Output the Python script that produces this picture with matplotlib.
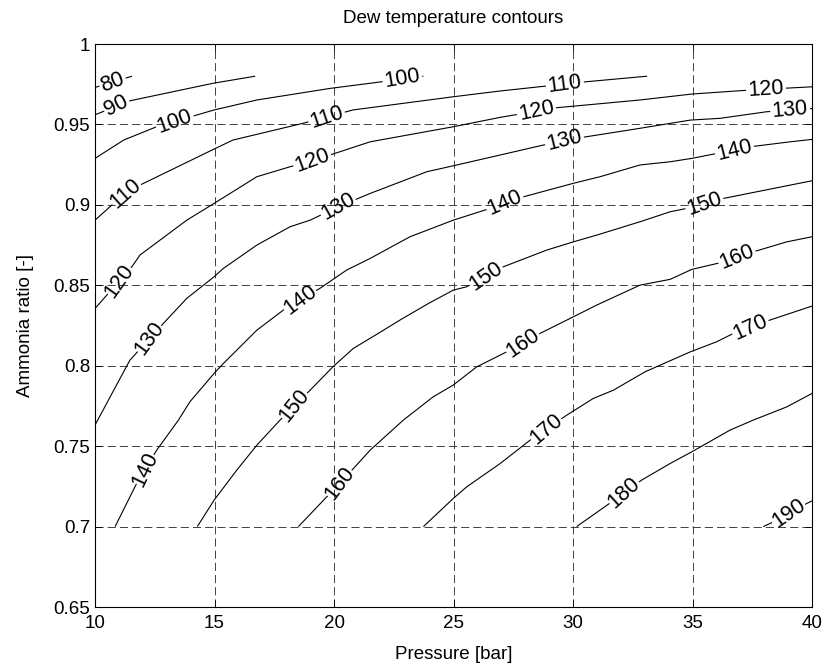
import numpy as np
import matplotlib
matplotlib.use("Agg")
import matplotlib.pyplot as plt
from matplotlib.contour import ContourSet
from matplotlib.ticker import FuncFormatter

plt.rcParams['font.family'] = ['Liberation Sans', 'DejaVu Sans']

levels = [80, 90, 100, 110, 120, 130, 140, 150, 160, 170, 180, 190]

# contour traces: pressure [bar] / ammonia ratio [-]
p80 = [10.0, 11.55]
r80 = [0.973, 0.980]

p90 = [10.0, 11.46, 14.94, 16.7]
r90 = [0.956, 0.9647, 0.9756, 0.980]

p100 = [10.0, 11.2, 12.58, 14.98, 16.77, 19.83, 21.51, 23.74]
r100 = [0.9289, 0.9403, 0.9486, 0.959, 0.9652, 0.9724, 0.9756, 0.980]

p110 = [10.0, 11.26, 11.88, 14.98, 15.77, 18.70, 20.79, 24.98, 26.95, 30.59, 33.1]
r110 = [0.8905, 0.9073, 0.9123, 0.9347, 0.9403, 0.9507, 0.959, 0.9672, 0.9708, 0.9766, 0.980]

p120 = [10.0, 11.54, 11.88, 13.0, 13.84, 14.98, 16.77, 18.16, 19.83, 21.51, 25.0,
        26.95, 29.32, 32.8, 34.97, 37.41, 40.0]
r120 = [0.8356, 0.8615, 0.8688, 0.8812, 0.8905, 0.9009, 0.9175, 0.9237, 0.931, 0.9392,
        0.9486, 0.9544, 0.9604, 0.9652, 0.9689, 0.9714, 0.9734]

p130 = [10.0, 11.46, 12.86, 13.84, 14.98, 15.37, 16.77, 18.16, 19.0, 20.17, 21.51,
        23.88, 24.99, 26.95, 28.76, 30.15, 32.8, 34.9, 36.15, 38.1, 40.0]
r130 = [0.7631, 0.8035, 0.8263, 0.8419, 0.8553, 0.8605, 0.875, 0.8864, 0.8905, 0.8988,
        0.9071, 0.9206, 0.9243, 0.931, 0.9372, 0.9414, 0.9476, 0.9527, 0.9538, 0.9579, 0.9599]

p140 = [10.84, 11.74, 12.58, 13.49, 13.97, 14.98, 15.37, 16.77, 17.88, 19.41, 20.53,
        21.51, 23.18, 24.99, 26.53, 27.92, 30.01, 31.13, 32.8, 34.06, 34.97, 37.41,
        39.08, 40.0]
r140 = [0.700, 0.7268, 0.7475, 0.7662, 0.7776, 0.7952, 0.8014, 0.8221, 0.8346, 0.8481,
        0.8595, 0.8667, 0.8802, 0.8905, 0.8978, 0.905, 0.9134, 0.9175, 0.9248, 0.9268,
        0.9289, 0.9361, 0.9392, 0.9407]

p150 = [14.28, 14.98, 15.93, 16.77, 17.74, 19.0, 19.95, 20.81, 21.85, 22.76, 23.95,
        24.99, 25.55, 27.08, 28.9, 30.01, 30.99, 32.8, 34.06, 34.76, 36.29, 40.0]
r150 = [0.700, 0.7164, 0.7351, 0.7506, 0.7662, 0.7848, 0.7993, 0.8108, 0.8201, 0.8284,
        0.8387, 0.847, 0.8491, 0.8615, 0.8719, 0.877, 0.8812, 0.8895, 0.8957, 0.8978,
        0.904, 0.915]

p160 = [18.51, 19.83, 20.81, 21.51, 22.9, 24.15, 24.99, 25.97, 27.22, 28.62, 30.01,
        30.99, 32.8, 34.06, 34.97, 36.15, 37.54, 38.94, 40.0]
r160 = [0.700, 0.7206, 0.7361, 0.7475, 0.7662, 0.7807, 0.788, 0.7993, 0.8086, 0.8201,
        0.8304, 0.8377, 0.8501, 0.8537, 0.8599, 0.864, 0.8708, 0.877, 0.8802]

p170 = [23.74, 24.99, 25.55, 26.95, 28.2, 29.74, 30.85, 31.69, 33.01, 34.9, 36.01,
        36.71, 38.24, 40.0]
r170 = [0.700, 0.7175, 0.7247, 0.7392, 0.7537, 0.7693, 0.7797, 0.7848, 0.7962, 0.8086,
        0.8149, 0.8201, 0.8284, 0.8371]

p180 = [30.15, 31.62, 32.87, 34.06, 34.97, 36.57, 37.54, 38.94, 40.0]
r180 = [0.700, 0.7154, 0.7289, 0.7392, 0.7465, 0.760, 0.7662, 0.7744, 0.7828]

p190 = [37.96, 38.38, 39.78, 40.0]
r190 = [0.700, 0.7029, 0.7144, 0.716]

pressures = [p80, p90, p100, p110, p120, p130, p140, p150, p160, p170, p180, p190]
ratios = [r80, r90, r100, r110, r120, r130, r140, r150, r160, r170, r180, r190]

# where the contour labels sit
label_pos = [(10.75, 0.9757), (10.96, 0.9602),
             (13.35, 0.9515), (22.89, 0.9764),
             (11.26, 0.9073), (19.62, 0.9571), (29.67, 0.9739),
             (10.96, 0.8532), (19.12, 0.9266), (28.49, 0.9571), (38.08, 0.9708),
             (12.38, 0.8159), (20.17, 0.8986), (29.67, 0.9384), (39.08, 0.959),
             (12.18, 0.7351), (18.58, 0.8408), (27.15, 0.9011), (36.78, 0.9328),
             (18.45, 0.7743), (26.4, 0.8551), (35.52, 0.8999),
             (20.17, 0.7276), (27.91, 0.814), (36.86, 0.8675),
             (28.91, 0.760), (37.49, 0.8221),
             (32.26, 0.7195),
             (39.08, 0.7071)]

fig = plt.figure(figsize=(8.22, 6.70), dpi=100)
ax = fig.add_axes([0.1156, 0.094, 0.8723, 0.8403])

segs = [[np.column_stack([p, r])] for p, r in zip(pressures, ratios)]
cs = ContourSet(ax, levels, segs, colors='k', linewidths=0.8)
ax.clabel(cs, manual=label_pos, inline=True, fmt='%d', fontsize=15.5, inline_spacing=2)

ax.set_xlim(10, 40)
ax.set_ylim(0.65, 1.0)
ax.set_xticks(np.arange(10, 41, 5))
ax.set_yticks(np.arange(0.65, 1.001, 0.05))
ax.yaxis.set_major_formatter(FuncFormatter(lambda v, pos: f"{v:g}"))

ax.grid(True, color='0.2', linewidth=0.65, linestyle=(0, (9, 4.5)))
ax.tick_params(direction='in', top=True, right=True, length=5, width=0.6, labelsize=13.5)
ax.tick_params(axis='x', pad=6)
for s in ax.spines.values():
    s.set_linewidth(0.8)

ax.set_xlabel('Pressure [bar]', fontsize=13.5, labelpad=10)
ax.set_ylabel('Ammonia ratio [-]', fontsize=13.5, labelpad=14)
ax.set_title('Dew temperature contours', fontsize=13.5, pad=15)

fig.savefig('out.png', dpi=100)
